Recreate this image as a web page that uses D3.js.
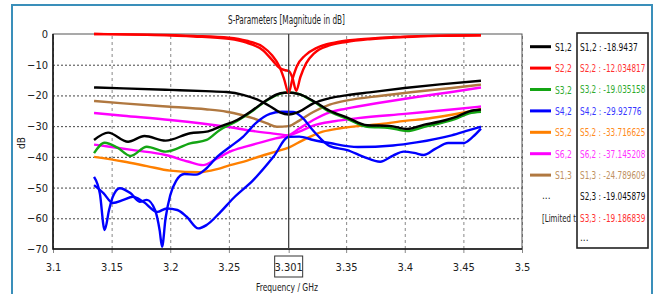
<!DOCTYPE html>
<html>
<head>
<meta charset="utf-8">
<script src="https://cdn.jsdelivr.net/npm/d3@7"></script>
<style>
  body { margin: 0; background: #fff; }
  text { font-family: "DejaVu Sans Condensed", "Liberation Sans", sans-serif; }
</style>
</head>
<body>
<svg id="chart" width="655" height="294"></svg>
<script>
// frequency (GHz), magnitude (dB)
const s12 = [[3.135,-17.4],[3.16,-17.7],[3.2,-18.2],[3.23,-18.6],[3.248,-18.9],[3.262,-19.8],[3.274,-21.3],[3.285,-23.5],[3.294,-25.6],[3.301,-26.2],[3.31,-25.3],[3.322,-22.6],[3.336,-20.9],[3.351,-19.9],[3.37,-19],[3.4,-17.6],[3.43,-16.4],[3.465,-15.2]];
const s22 = [[3.135,0],[3.18,-0.3],[3.22,-0.8],[3.25,-1.6],[3.265,-2.8],[3.279,-5.3],[3.287,-8.5],[3.293,-11],[3.298,-11.8],[3.301,-12],[3.304,-14],[3.3075,-18.5],[3.311,-14],[3.316,-9.5],[3.323,-6.2],[3.335,-3.8],[3.35,-2.6],[3.37,-1.7],[3.4,-1],[3.43,-0.6],[3.465,-0.4]];
const s32 = [[3.135,-38.8],[3.144,-35.4],[3.155,-37],[3.166,-39.7],[3.18,-36.7],[3.196,-38.3],[3.217,-35.6],[3.231,-34.5],[3.242,-31.3],[3.257,-28.3],[3.271,-24.8],[3.282,-21.7],[3.294,-19.4],[3.301,-19.0],[3.31,-19.6],[3.322,-22],[3.336,-25.3],[3.351,-27.6],[3.368,-30.2],[3.387,-30.6],[3.402,-31.6],[3.416,-30.3],[3.43,-29.1],[3.445,-27.4],[3.455,-25.8],[3.465,-25.3]];
const s42 = [[3.135,-46.5],[3.14,-52],[3.144,-63.8],[3.148,-57],[3.151,-53],[3.157,-50.2],[3.166,-51.8],[3.174,-54.6],[3.18,-54],[3.187,-57.3],[3.191,-64],[3.193,-69.3],[3.196,-60],[3.2,-52.5],[3.205,-47.8],[3.212,-45.6],[3.222,-45.8],[3.231,-43.7],[3.24,-40],[3.251,-36.7],[3.262,-33.5],[3.273,-29],[3.285,-26],[3.295,-25.3],[3.305,-25.4],[3.312,-27],[3.322,-31.5],[3.336,-36.5],[3.351,-37.8],[3.365,-40],[3.379,-41.6],[3.39,-39.6],[3.399,-38.3],[3.408,-38.7],[3.416,-39.4],[3.426,-37.4],[3.437,-35.5],[3.45,-35.5],[3.458,-33.5],[3.465,-30.8]];
const s52 = [[3.135,-40],[3.16,-41.5],[3.18,-43],[3.2,-44.5],[3.225,-45],[3.24,-44],[3.251,-42.7],[3.265,-41.3],[3.277,-39.8],[3.29,-38.3],[3.301,-37],[3.31,-35.2],[3.32,-33.3],[3.33,-31.8],[3.345,-30.7],[3.36,-30],[3.38,-29.3],[3.4,-28.3],[3.42,-27.5],[3.44,-26.3],[3.465,-24.5]];
const s62 = [[3.135,-36],[3.15,-36.8],[3.17,-37.9],[3.196,-39.4],[3.215,-41.5],[3.228,-42.7],[3.24,-40.5],[3.251,-38.3],[3.265,-36.6],[3.279,-35.1],[3.29,-34],[3.301,-33],[3.31,-30.8],[3.322,-28],[3.336,-25.5],[3.35,-24.3],[3.38,-22.3],[3.41,-20.5],[3.44,-18.9],[3.465,-17.4]];
const s13 = [[3.135,-21.8],[3.16,-22.6],[3.2,-23.7],[3.23,-24.5],[3.248,-25.3],[3.26,-26.3],[3.271,-27.5],[3.282,-29],[3.291,-30.2],[3.301,-30],[3.31,-28.2],[3.322,-25.4],[3.336,-23],[3.351,-21.6],[3.38,-20.1],[3.407,-18.9],[3.44,-17.6],[3.465,-16.5]];
const s23 = [[3.135,-34.5],[3.147,-32.1],[3.164,-35.1],[3.178,-33.2],[3.196,-34.7],[3.217,-32.3],[3.231,-31.8],[3.242,-30.2],[3.257,-28],[3.271,-24.6],[3.282,-21.6],[3.294,-19.3],[3.301,-19.05],[3.31,-19.6],[3.322,-21.8],[3.336,-25],[3.351,-27.2],[3.368,-29.7],[3.387,-29.9],[3.402,-30.9],[3.416,-29.6],[3.43,-28.5],[3.445,-26.8],[3.455,-25.2],[3.465,-24.6]];
const s33 = [[3.135,0],[3.18,-0.2],[3.22,-0.6],[3.25,-1.2],[3.265,-2.2],[3.279,-4.2],[3.287,-7],[3.293,-10.5],[3.297,-14.5],[3.301,-19.2],[3.304,-15],[3.308,-10.5],[3.315,-7],[3.325,-4.5],[3.34,-2.8],[3.36,-1.8],[3.39,-1],[3.42,-0.6],[3.465,-0.4]];
const s53 = [[3.135,-49.2],[3.143,-51.8],[3.151,-55],[3.16,-54],[3.168,-53],[3.177,-54.6],[3.189,-57.9],[3.197,-56.8],[3.206,-57.3],[3.214,-59.5],[3.224,-63.3],[3.231,-62.2],[3.242,-58.3],[3.254,-53.4],[3.271,-47.5],[3.288,-40],[3.301,-33.5],[3.31,-33.4],[3.322,-34.5],[3.336,-35.5],[3.36,-36.8],[3.39,-36.3],[3.41,-35.3],[3.44,-33],[3.455,-31.3],[3.465,-30.2]];
const s14 = [[3.135,-25.7],[3.16,-26.6],[3.2,-28],[3.248,-30.2],[3.271,-31.6],[3.29,-32.5],[3.301,-33],[3.31,-31.8],[3.322,-29.8],[3.34,-28.4],[3.36,-27.4],[3.4,-26],[3.44,-24.6],[3.465,-23.6]];

const curves = [
  { data: s13, color: "#b07840" },
  { data: s14, color: "#ff00ff" },
  { data: s62, color: "#ff00ff" },
  { data: s52, color: "#ff8000" },
  { data: s53, color: "#0000ff" },
  { data: s42, color: "#0000ff" },
  { data: s32, color: "#14a514" },
  { data: s23, color: "#000000" },
  { data: s12, color: "#000000" },
  { data: s22, color: "#ff0000" },
  { data: s33, color: "#ff0000" }
];

const legendNames = ["S1,2", "S2,2", "S3,2", "S4,2", "S5,2", "S6,2", "S1,3"];
const legendLineColors = ["#000000", "#ff0000", "#14a514", "#0000ff", "#ff8000", "#ff00ff", "#b07840"];
const legendTextColors = ["#111111", "#ff3030", "#2eaa2e", "#3535ff", "#ff8a1a", "#ff33ff", "#c09060"];
const markerNames = ["S1,2", "S2,2", "S3,2", "S4,2", "S5,2", "S6,2", "S1,3", "S2,3", "S3,3"];
const markerValues = ["-18.9437", "-12.034817", "-19.035158", "-29.92776", "-33.716625", "-37.145208", "-24.789609", "-19.045879", "-19.186839"];
const markerColors = ["#111111", "#ff3030", "#2eaa2e", "#3535ff", "#ff8a1a", "#ff33ff", "#c09060", "#111111", "#ff3030"];

const xTicks = [3.1, 3.15, 3.2, 3.25, 3.35, 3.4, 3.45, 3.5];
const yTicks = [0, -10, -20, -30, -40, -50, -60, -70];
const markerFreq = 3.301;

const svg = d3.select("#chart");
const plotLeft = 53, plotRight = 522, plotTop = 34, plotBottom = 249;

const x = d3.scaleLinear().domain([3.1, 3.5]).range([plotLeft, plotRight]);
const y = d3.scaleLinear().domain([0, -70]).range([plotTop, plotBottom]);

// squeeze a left-anchored text horizontally to a given width
function fit(sel, width) {
  sel.each(function (d, i) {
    const w = typeof width === "function" ? width(d, i) : width;
    const natural = this.getComputedTextLength();
    const x0 = +this.getAttribute("x");
    const k = Math.min(1, w / natural);
    this.setAttribute("transform", `translate(${x0},0) scale(${k},1) translate(${-x0},0)`);
  });
}

// outer frame
svg.append("rect")
  .attr("x", 12).attr("y", 5).attr("width", 640).attr("height", 300)
  .attr("fill", "#fff").attr("stroke", "#3a8fba").attr("stroke-width", 2);

// title
svg.append("text")
  .attr("x", 228).attr("y", 24)
  .style("font-size", "12px").attr("fill", "#222")
  .text("S-Parameters [Magnitude in dB]")
  .call(fit, 117);

// grid
const yGrid = svg.append("g")
  .attr("transform", "translate(" + plotLeft + ",0)")
  .call(d3.axisLeft(y).tickValues(yTicks.slice(1, -1)).tickSize(-(plotRight - plotLeft)).tickFormat(""));
yGrid.select(".domain").remove();
yGrid.selectAll(".tick line").attr("stroke", "#444").attr("stroke-dasharray", "2,2");

const xGrid = svg.append("g")
  .attr("transform", "translate(0," + plotBottom + ")")
  .call(d3.axisBottom(x).tickValues(xTicks).tickSize(-(plotBottom - plotTop)).tickFormat(""));
xGrid.select(".domain").remove();
xGrid.selectAll(".tick line").attr("stroke", "#888").attr("stroke-dasharray", "3,3");

// small ticks under the axis
const xTickMarks = svg.append("g")
  .attr("transform", "translate(0," + plotBottom + ")")
  .call(d3.axisBottom(x).tickValues(xTicks.concat([markerFreq])).tickSize(4).tickFormat(""));
xTickMarks.select(".domain").remove();
xTickMarks.selectAll(".tick line").attr("stroke", "#888");

// plot frame
svg.append("rect")
  .attr("x", plotLeft).attr("y", plotTop).attr("width", plotRight - plotLeft).attr("height", plotBottom - plotTop)
  .attr("fill", "none").attr("stroke", "#555").attr("stroke-width", 1);
svg.append("path")
  .attr("d", `M${plotLeft},${plotTop}V${plotBottom}H${plotRight}`)
  .attr("fill", "none").attr("stroke", "#111").attr("stroke-width", 1.5);

// y labels
const yAxis = svg.append("g")
  .attr("transform", "translate(" + plotLeft + ",0)")
  .call(d3.axisLeft(y).tickValues(yTicks).tickSize(0).tickPadding(5).tickFormat(d3.format("d")));
yAxis.select(".domain").remove();
yAxis.selectAll("text").style("font-size", "11px").attr("fill", "#222")
  .style("font-family", "'DejaVu Sans Condensed', sans-serif");

svg.append("text")
  .attr("transform", "translate(25,143) rotate(-90)")
  .attr("text-anchor", "middle")
  .style("font-size", "10px").attr("fill", "#222")
  .text("dB");

// x labels
const xAxis = svg.append("g")
  .attr("transform", "translate(0," + plotBottom + ")")
  .call(d3.axisBottom(x).tickValues(xTicks).tickSize(0).tickPadding(14).tickFormat(d => String(d)));
xAxis.select(".domain").remove();
xAxis.selectAll("text").style("font-size", "11px").attr("fill", "#222")
  .style("font-family", "'DejaVu Sans Condensed', sans-serif");

// marker label box
svg.append("rect")
  .attr("x", x(markerFreq) - 14).attr("y", 256).attr("width", 28).attr("height", 21)
  .attr("fill", "#fff").attr("stroke", "#333").attr("stroke-width", 1);
svg.append("text")
  .attr("x", x(markerFreq)).attr("y", 271)
  .attr("text-anchor", "middle")
  .style("font-size", "11px").attr("fill", "#222")
  .text(String(markerFreq));

svg.append("text")
  .attr("x", 256).attr("y", 291)
  .style("font-size", "11px").attr("fill", "#222")
  .text("Frequency / GHz")
  .call(fit, 62);

// curves
const line = d3.line()
  .x(d => x(d[0]))
  .y(d => y(d[1]))
  .curve(d3.curveMonotoneX);

svg.append("g")
  .selectAll("path")
  .data(curves)
  .join("path")
  .attr("d", d => line(d.data))
  .attr("fill", "none")
  .attr("stroke", d => d.color)
  .attr("stroke-width", 2.4)
  .attr("stroke-linejoin", "round");

// marker line
svg.append("line")
  .attr("x1", x(markerFreq)).attr("x2", x(markerFreq))
  .attr("y1", plotTop).attr("y2", plotBottom)
  .attr("stroke", "#444").attr("stroke-width", 1.3);

// legend
const legendY = i => 46.7 + i * 21.4;
const legend = svg.append("g")
  .selectAll("g")
  .data(legendNames)
  .join("g")
  .attr("transform", (d, i) => "translate(0," + legendY(i) + ")");
legend.append("line")
  .attr("x1", 530).attr("x2", 551).attr("y1", 0).attr("y2", 0)
  .attr("stroke", (d, i) => legendLineColors[i]).attr("stroke-width", 3);
legend.append("text")
  .attr("x", 555).attr("y", 4)
  .style("font-size", "11px")
  .attr("fill", (d, i) => legendTextColors[i])
  .text(d => d)
  .call(fit, 17);

svg.append("text")
  .attr("x", 542).attr("y", legendY(7) + 2)
  .style("font-size", "10px").attr("fill", "#222")
  .text("...");

svg.append("text")
  .attr("x", 542).attr("y", legendY(8) + 4)
  .style("font-size", "11px").attr("fill", "#222")
  .text("[Limited t")
  .call(fit, 34);

// marker readout box
svg.append("rect")
  .attr("x", 577).attr("y", 33).attr("width", 71).attr("height", 215)
  .attr("fill", "none").attr("stroke", "#222").attr("stroke-width", 1.6);

svg.append("g")
  .selectAll("text")
  .data(markerNames)
  .join("text")
  .attr("x", 580)
  .attr("y", (d, i) => legendY(i) + 4)
  .style("font-size", "11px")
  .attr("fill", (d, i) => markerColors[i])
  .text((d, i) => d + " : " + markerValues[i])
  .call(fit, (d, i) => 3.85 * (d + " : " + markerValues[i]).length);

svg.append("text")
  .attr("x", 580).attr("y", legendY(9) + 2)
  .style("font-size", "10px").attr("fill", "#222")
  .text("...");
</script>
</body>
</html>
